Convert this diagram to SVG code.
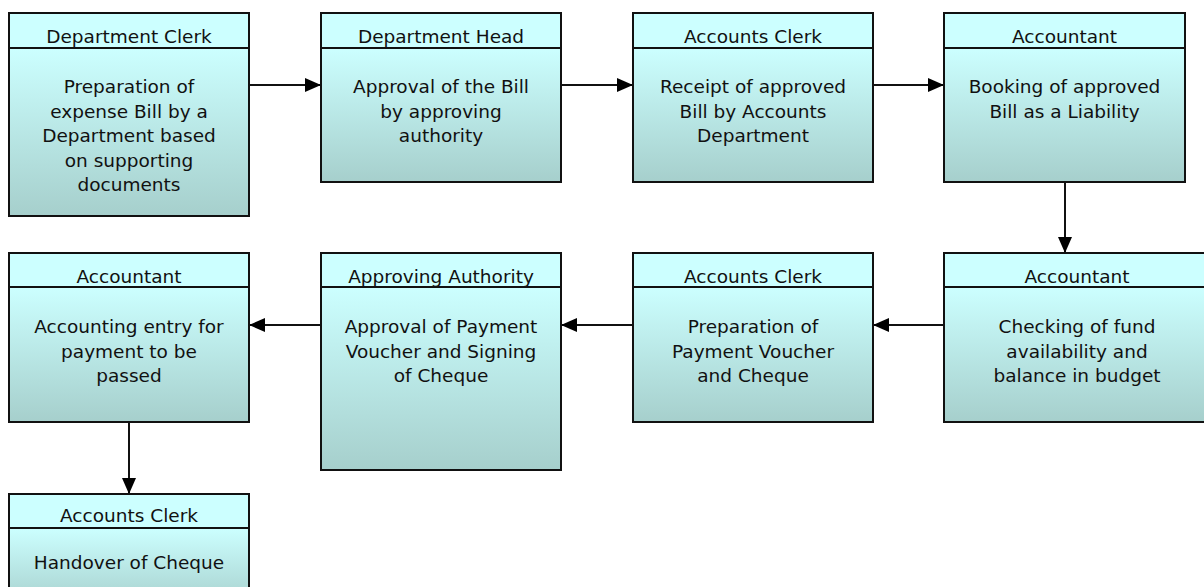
<svg xmlns="http://www.w3.org/2000/svg" width="1204" height="587" viewBox="0 0 1204 587">
  <style>
    .hdr { fill: #CCFFFF; stroke: #111; stroke-width: 2; }
    .body { fill: url(#bodyGrad); stroke: #111; stroke-width: 2; }
    text { font-family: "DejaVu Sans", "Liberation Sans", sans-serif; font-size: 18.5px; fill: #111; text-anchor: middle; }
    .conn { stroke: #111; stroke-width: 2; fill: none; marker-end: url(#arrow); }
  </style>
  <defs>
    <linearGradient id="bodyGrad" x1="0" y1="0" x2="0" y2="1">
      <stop offset="0" stop-color="#CCFFFF"/>
      <stop offset="1" stop-color="#A6CFCC"/>
    </linearGradient>
    <marker id="arrow" markerUnits="userSpaceOnUse" markerWidth="16" markerHeight="14" refX="16" refY="7" orient="auto">
      <path d="M0,0 L16,7 L0,14 z" fill="#000"/>
    </marker>
  </defs>

  <rect width="1204" height="587" fill="#fff"/>

  <!-- connectors -->
  <g id="connectors">
    <line class="conn" x1="249" y1="85" x2="321" y2="85"/>
    <line class="conn" x1="561" y1="85" x2="633" y2="85"/>
    <line class="conn" x1="873" y1="85" x2="944" y2="85"/>
    <line class="conn" x1="1065" y1="182" x2="1065" y2="253"/>
    <line class="conn" x1="944" y1="325" x2="873" y2="325"/>
    <line class="conn" x1="633" y1="325" x2="561" y2="325"/>
    <line class="conn" x1="321" y1="325" x2="249" y2="325"/>
    <line class="conn" x1="129" y1="422" x2="129" y2="494"/>
  </g>

  <!-- row 1 -->
  <g id="dept-clerk">
    <rect class="body" x="9" y="48" width="240" height="168"/>
    <rect class="hdr" x="9" y="13" width="240" height="35"/>
    <text x="129" y="43">Department Clerk</text>
    <text x="129" y="93">Preparation of</text>
    <text x="129" y="117.5">expense Bill by a</text>
    <text x="129" y="142">Department based</text>
    <text x="129" y="166.5">on supporting</text>
    <text x="129" y="191">documents</text>
  </g>

  <g id="dept-head">
    <rect class="body" x="321" y="48" width="240" height="134"/>
    <rect class="hdr" x="321" y="13" width="240" height="35"/>
    <text x="441" y="43">Department Head</text>
    <text x="441" y="93">Approval of the Bill</text>
    <text x="441" y="117.5">by approving</text>
    <text x="441" y="142">authority</text>
  </g>

  <g id="accounts-clerk-receipt">
    <rect class="body" x="633" y="48" width="240" height="134"/>
    <rect class="hdr" x="633" y="13" width="240" height="35"/>
    <text x="753" y="43">Accounts Clerk</text>
    <text x="753" y="93">Receipt of approved</text>
    <text x="753" y="117.5">Bill by Accounts</text>
    <text x="753" y="142">Department</text>
  </g>

  <g id="accountant-booking">
    <rect class="body" x="944" y="48" width="241" height="134"/>
    <rect class="hdr" x="944" y="13" width="241" height="35"/>
    <text x="1064.5" y="43">Accountant</text>
    <text x="1064.5" y="93">Booking of approved</text>
    <text x="1064.5" y="117.5">Bill as a Liability</text>
  </g>

  <!-- row 2 -->
  <g id="accountant-checking">
    <rect class="body" x="944" y="287" width="266" height="135"/>
    <rect class="hdr" x="944" y="253" width="266" height="34"/>
    <text x="1077" y="283">Accountant</text>
    <text x="1077" y="333">Checking of fund</text>
    <text x="1077" y="357.5">availability and</text>
    <text x="1077" y="382">balance in budget</text>
  </g>

  <g id="accounts-clerk-voucher">
    <rect class="body" x="633" y="287" width="240" height="135"/>
    <rect class="hdr" x="633" y="253" width="240" height="34"/>
    <text x="753" y="283">Accounts Clerk</text>
    <text x="753" y="333">Preparation of</text>
    <text x="753" y="357.5">Payment Voucher</text>
    <text x="753" y="382">and Cheque</text>
  </g>

  <g id="approving-authority">
    <rect class="body" x="321" y="287" width="240" height="183"/>
    <rect class="hdr" x="321" y="253" width="240" height="34"/>
    <text x="441" y="283">Approving Authority</text>
    <text x="441" y="333">Approval of Payment</text>
    <text x="441" y="357.5">Voucher and Signing</text>
    <text x="441" y="382">of Cheque</text>
  </g>

  <g id="accountant-entry">
    <rect class="body" x="9" y="287" width="240" height="135"/>
    <rect class="hdr" x="9" y="253" width="240" height="34"/>
    <text x="129" y="283">Accountant</text>
    <text x="129" y="333">Accounting entry for</text>
    <text x="129" y="357.5">payment to be</text>
    <text x="129" y="382">passed</text>
  </g>

  <!-- row 3 -->
  <g id="accounts-clerk-handover">
    <rect class="body" x="9" y="528" width="240" height="80"/>
    <rect class="hdr" x="9" y="494" width="240" height="34"/>
    <text x="129" y="522">Accounts Clerk</text>
    <text x="129" y="569">Handover of Cheque</text>
  </g>
</svg>
